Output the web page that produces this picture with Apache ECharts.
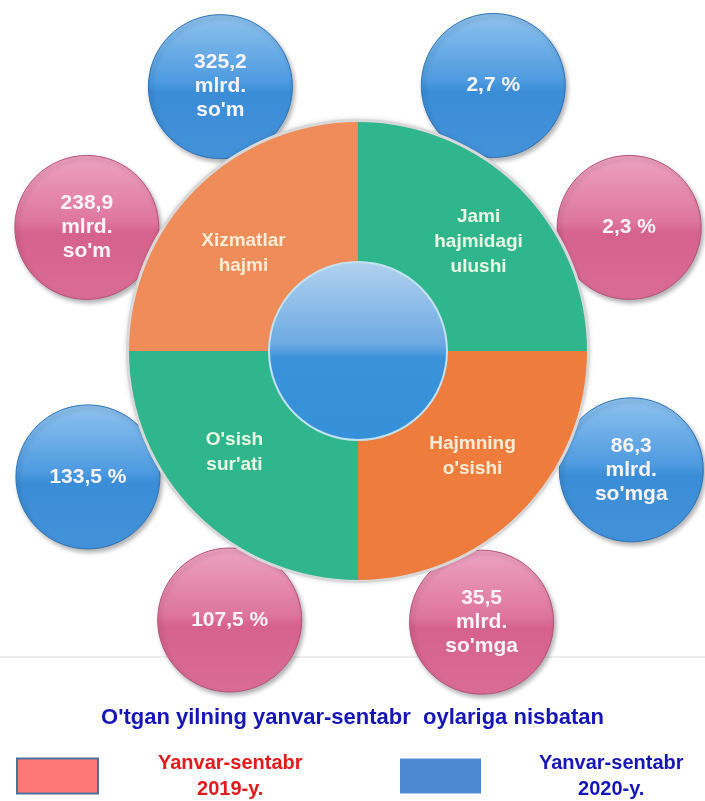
<!DOCTYPE html>
<html>
<head>
<meta charset="utf-8">
<script src="https://cdn.jsdelivr.net/npm/echarts@6/dist/echarts.min.js"></script>
<style>
    html, body { margin: 0; padding: 0; background: #fff; }
    #chart { width: 705px; height: 801px; }
</style>
</head>
<body>
<div id="chart"></div>
<script>
// quadrants, clockwise from the top-right
const sectorNames = ['Jami\nhajmidagi\nulushi', "Hajmning\no'sishi", "O'sish\nsur'ati", 'Xizmatlar\nhajmi'];
const sectorShares = [1, 1, 1, 1];
const values2020 = ['2,7 %', "86,3\nmlrd.\nso'mga", '133,5 %', "325,2\nmlrd.\nso'm"];
const values2019 = ['2,3 %', "35,5\nmlrd.\nso'mga", '107,5 %', "238,9\nmlrd.\nso'm"];
const seriesNames = ['Yanvar-sentabr\n2019-y.', 'Yanvar-sentabr\n2020-y.'];
const subtitle = "O'tgan yilning yanvar-sentabr  oylariga nisbatan";

const fontFamily = "'Liberation Sans', Arial, sans-serif";
const center = [358, 351];
const sectorColors = ['#2FB68C', '#EE7C3D', '#2FB68C', '#EF8C59'];
const sectorText = ['#EAF6E4', '#FFEBD6', '#EAF6E4', '#FFEBD6'];
const labelShift = [[6, 5], [0, -9], [-9, -13], [0, 17]];

// bubbles sit around the ring, either side of each quadrant's middle
const blueShift = [18, 21.5, -20, -17.5];
const pinkShift = [-20.5, -20.5, 19.5, 20.5];
const midAngle = i => (45 - 90 * i + 360) % 360;

const grad = (a, b, c, d) => new echarts.graphic.LinearGradient(0, 0, 0, 1, [
    { offset: 0, color: a },
    { offset: 0.46, color: b },
    { offset: 0.54, color: c },
    { offset: 1, color: d }
]);

const bubbleLabel = {
    show: true,
    position: 'inside',
    formatter: p => p.name,
    color: '#F8F3F7',
    fontFamily: fontFamily,
    fontWeight: 'bold',
    fontSize: 21,
    lineHeight: 24
};

const bubbleShadow = {
    opacity: 1,
    shadowColor: 'rgba(0,0,0,0.3)',
    shadowBlur: 4,
    shadowOffsetX: 2,
    shadowOffsetY: 3
};

const chart = echarts.init(document.getElementById('chart'));

chart.setOption({
    backgroundColor: '#fff',
    animation: false,
    title: {
        text: subtitle,
        left: 'center',
        top: 702,
        textStyle: {
            color: '#1616B8',
            fontFamily: fontFamily,
            fontWeight: 'bold',
            fontSize: 22
        }
    },
    legend: [0, 1].map(k => ({
        left: k === 0 ? 16 : 400,
        top: 753,
        padding: 0,
        itemWidth: 81,
        itemHeight: 35,
        icon: 'rect',
        selectedMode: false,
        data: [{
            name: seriesNames[k],
            itemStyle: k === 0
                ? { color: '#FF7878', borderColor: '#4F6E9C', borderWidth: 2, opacity: 1 }
                : { color: '#4F88D2', borderColor: '#4F88D2', borderWidth: 0, opacity: 1 }
        }],
        formatter: name => name.split('\n').map(s => '{a|' + s + '}').join('\n'),
        textStyle: {
            padding: [0, 0, 0, k === 0 ? 55 : 53],
            rich: {
                a: {
                    align: 'center',
                    color: k === 0 ? '#E3191C' : '#1616B8',
                    fontFamily: fontFamily,
                    fontWeight: 'bold',
                    fontSize: 20,
                    lineHeight: 26
                }
            }
        }
    })),
    graphic: [{
        type: 'line',
        z: -10,
        shape: { x1: 0, y1: 657, x2: 705, y2: 657 },
        style: { stroke: '#EEEEEE', lineWidth: 2 }
    }],
    polar: {
        center: center,
        radius: 298
    },
    radiusAxis: { type: 'value', min: 0, max: 1, show: false },
    angleAxis: { type: 'value', min: 0, max: 360, startAngle: 0, clockwise: false, show: false },
    series: [
        {
            name: seriesNames[0],
            type: 'scatter',
            coordinateSystem: 'polar',
            symbolSize: 144,
            z: 2,
            itemStyle: Object.assign({
                color: grad('#EDA3C1', '#DE769D', '#D6628C', '#D96C94'),
                borderColor: '#B85479',
                borderWidth: 1
            }, bubbleShadow),
            label: bubbleLabel,
            data: values2019.map((v, i) => ({ name: v, value: [1, midAngle(i) + pinkShift[i]] }))
        },
        {
            name: seriesNames[1],
            type: 'scatter',
            coordinateSystem: 'polar',
            symbolSize: 144,
            z: 2,
            itemStyle: Object.assign({
                color: grad('#8FC2EE', '#4E9BE0', '#3A8DD7', '#4392D9'),
                borderColor: '#2F75B8',
                borderWidth: 1
            }, bubbleShadow),
            label: bubbleLabel,
            data: values2020.map((v, i) => ({ name: v, value: [1, midAngle(i) + blueShift[i]] }))
        },
        {
            // grey rim behind the quadrants
            type: 'pie',
            center: center,
            radius: [0, 232],
            z: 3,
            silent: true,
            label: { show: false },
            itemStyle: { color: '#D8D8D8', shadowColor: 'rgba(0,0,0,0.15)', shadowBlur: 4 },
            data: [{ value: 1 }]
        },
        {
            type: 'pie',
            center: center,
            radius: [89, 229],
            startAngle: 90,
            clockwise: true,
            z: 4,
            silent: true,
            label: {
                show: true,
                position: 'inside',
                fontFamily: fontFamily,
                fontWeight: 'bold',
                fontSize: 19,
                lineHeight: 25
            },
            labelLine: { show: false },
            data: sectorNames.map((n, i) => ({
                name: n,
                value: sectorShares[i],
                itemStyle: { color: sectorColors[i] },
                label: { color: sectorText[i], offset: labelShift[i] }
            }))
        },
        {
            // glossy centre disc
            type: 'pie',
            center: center,
            radius: [0, 89],
            z: 5,
            silent: true,
            label: { show: false },
            itemStyle: {
                color: grad('#B2D2EF', '#6DAAE2', '#3A93DA', '#3590D8'),
                borderColor: '#C3E2F0',
                borderWidth: 2
            },
            data: [{ value: 1 }]
        }
    ]
});
</script>
</body>
</html>
